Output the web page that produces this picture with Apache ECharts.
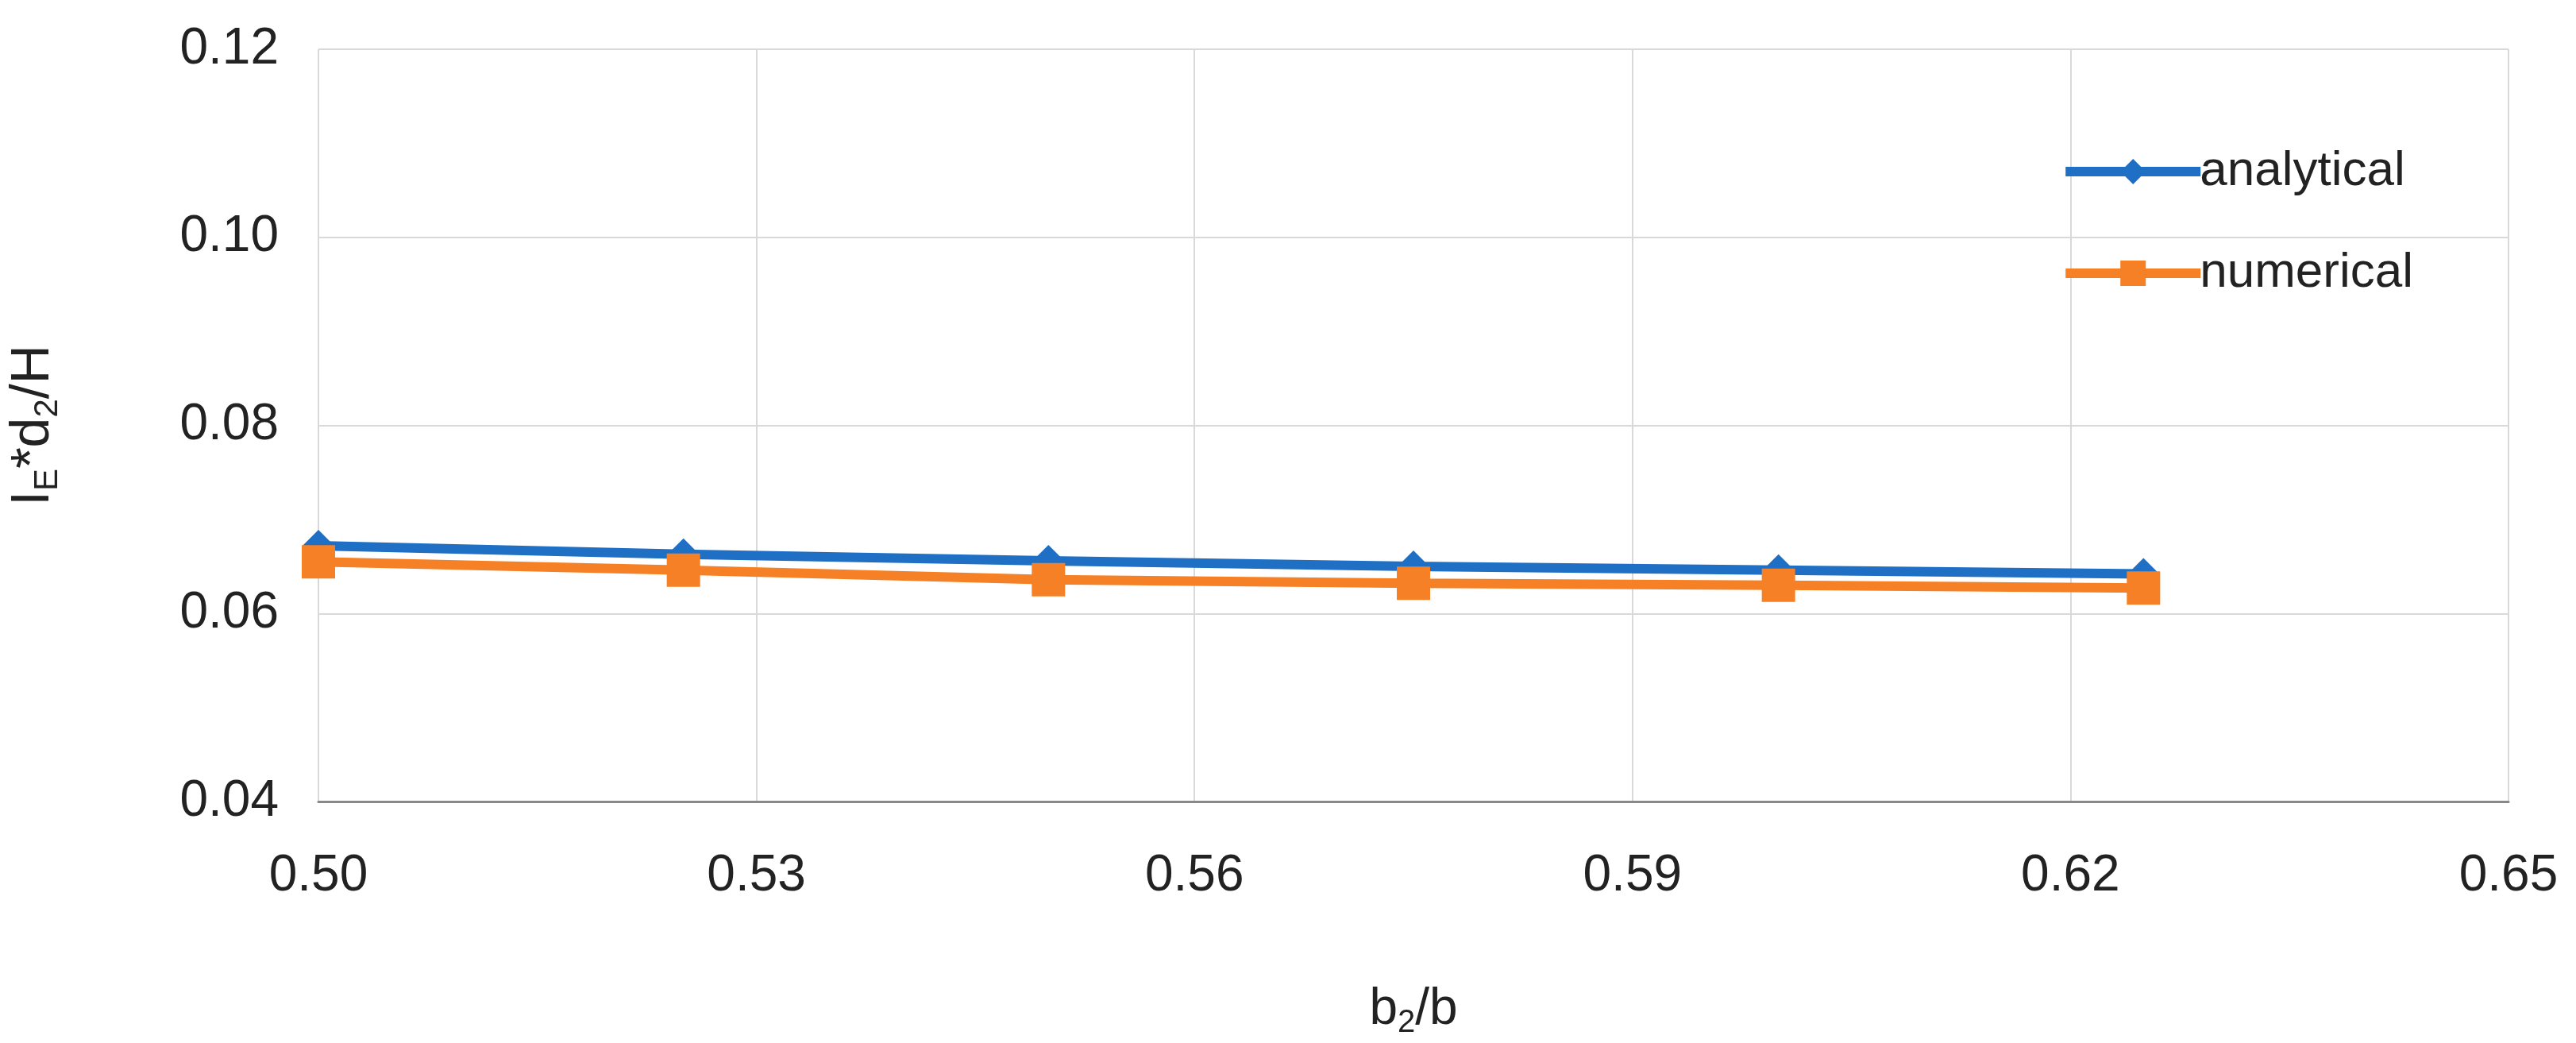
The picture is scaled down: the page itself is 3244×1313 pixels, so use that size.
<!DOCTYPE html>
<html><head><meta charset="utf-8">
<script src="https://cdn.jsdelivr.net/npm/echarts@6/dist/echarts.min.js"></script>
<style>html,body{margin:0;background:#fff}#c{width:3244px;height:1313px}</style>
</head><body><div id="c"></div>
<script>
const ratio = [0.5, 0.525, 0.55, 0.575, 0.6, 0.625];
const analytical = [0.0672, 0.0663, 0.0656, 0.0650, 0.0646, 0.0642];
const numerical = [0.0655, 0.0646, 0.0636, 0.0632, 0.0630, 0.0627];

const chart = echarts.init(document.getElementById('c'));
const font = 'Liberation Sans, Arial, sans-serif';
const pair = (ys)=> ratio.map((x, i)=> [x, ys[i]]);

chart.setOption({
  backgroundColor: '#fff',
  textStyle: {fontFamily: font},
  grid: {left: 399, right: 85, top: 62, bottom: 279},
  legend: {
    right: 200, top: 180, orient: 'vertical', itemGap: 66,
    itemWidth: 170, itemHeight: 40,
    lineStyle: {width: 12},
    textStyle: {fontSize: 62, color: '#222', fontFamily: font, padding: [0, 0, 0, -6]},
    data: ['analytical', 'numerical']
  },
  xAxis: {
    type: 'value', min: 0.5, max: 0.65, interval: 0.03,
    name: '{n|b}{s|2}{n|/b}', nameLocation: 'middle', nameGap: 225,
    nameTextStyle: {rich: {n: {fontSize: 64, color: '#222', fontFamily: font}, s: {fontSize: 40, color: '#222', padding: [34, 0, 0, 0], fontFamily: font}}},
    axisLine: {lineStyle: {color: '#888', width: 3}},
    axisTick: {show: false},
    splitLine: {lineStyle: {color: '#d9d9d9', width: 2}},
    axisLabel: {fontSize: 64, color: '#222', margin: 62, formatter: v=> v.toFixed(2)}
  },
  yAxis: {
    type: 'value', min: 0.04, max: 0.12, interval: 0.02,
    name: '{n|I}{s|E}{n|*d}{s|2}{n|/H}', nameLocation: 'middle', nameGap: 320, nameRotate: 90,
    nameTextStyle: {rich: {n: {fontSize: 68, color: '#222', fontFamily: font}, s: {fontSize: 42, color: '#222', padding: [36, 0, 0, 0], fontFamily: font}}},
    axisLine: {show: false},
    axisTick: {show: false},
    splitLine: {lineStyle: {color: '#d9d9d9', width: 2}},
    axisLabel: {fontSize: 64, color: '#222', margin: 50, formatter: v=> v.toFixed(2)}
  },
  series: [
    {name: 'analytical', type: 'line', data: pair(analytical), symbol: 'diamond', symbolSize: 40,
      lineStyle: {color: '#1f6fc5', width: 12}, itemStyle: {color: '#1f6fc5'}, z: 2},
    {name: 'numerical', type: 'line', data: pair(numerical), symbol: 'rect', symbolSize: 42,
      lineStyle: {color: '#f58025', width: 12}, itemStyle: {color: '#f58025'}, z: 3}
  ]
});
</script></body></html>
